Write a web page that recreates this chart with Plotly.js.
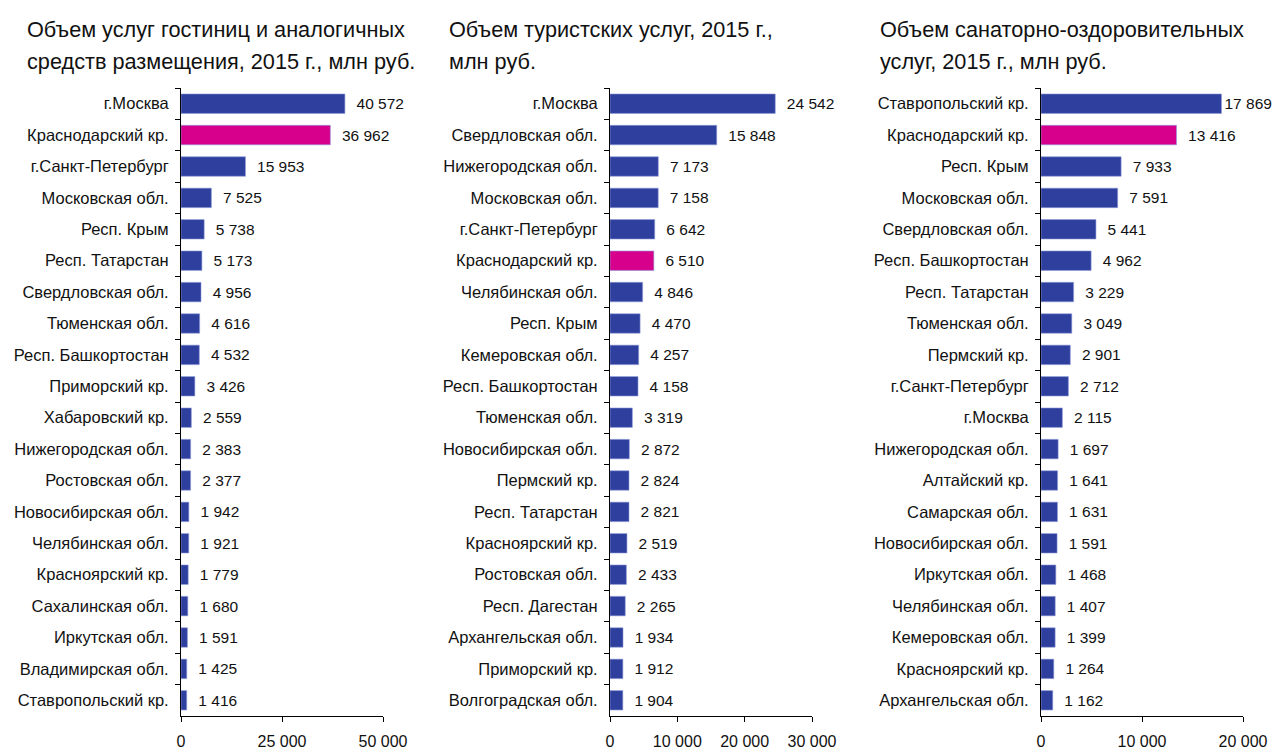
<!DOCTYPE html>
<html><head><meta charset="utf-8">
<script src="https://cdn.plot.ly/plotly-3.0.1.min.js"></script>
<style>body{margin:0;background:#fff}#c{width:1274px;height:749px}</style>
</head><body><div id="c"></div>
<script>
const titleLines = [
  ["Объем услуг гостиниц и аналогичных","средств размещения, 2015 г., млн руб."],
  ["Объем туристских услуг, 2015 г.,","млн руб."],
  ["Объем санаторно-оздоровительных","услуг, 2015 г., млн руб."]
];
const hotelRegions = ["г.Москва","Краснодарский кр.","г.Санкт-Петербург","Московская обл.","Респ. Крым","Респ. Татарстан","Свердловская обл.","Тюменская обл.","Респ. Башкортостан","Приморский кр.","Хабаровский кр.","Нижегородская обл.","Ростовская обл.","Новосибирская обл.","Челябинская обл.","Красноярский кр.","Сахалинская обл.","Иркутская обл.","Владимирская обл.","Ставропольский кр."];
const hotelValues = [40572,36962,15953,7525,5738,5173,4956,4616,4532,3426,2559,2383,2377,1942,1921,1779,1680,1591,1425,1416];
const tourRegions = ["г.Москва","Свердловская обл.","Нижегородская обл.","Московская обл.","г.Санкт-Петербург","Краснодарский кр.","Челябинская обл.","Респ. Крым","Кемеровская обл.","Респ. Башкортостан","Тюменская обл.","Новосибирская обл.","Пермский кр.","Респ. Татарстан","Красноярский кр.","Ростовская обл.","Респ. Дагестан","Архангельская обл.","Приморский кр.","Волгоградская обл."];
const tourValues = [24542,15848,7173,7158,6642,6510,4846,4470,4257,4158,3319,2872,2824,2821,2519,2433,2265,1934,1912,1904];
const spaRegions = ["Ставропольский кр.","Краснодарский кр.","Респ. Крым","Московская обл.","Свердловская обл.","Респ. Башкортостан","Респ. Татарстан","Тюменская обл.","Пермский кр.","г.Санкт-Петербург","г.Москва","Нижегородская обл.","Алтайский кр.","Самарская обл.","Новосибирская обл.","Иркутская обл.","Челябинская обл.","Кемеровская обл.","Красноярский кр.","Архангельская обл."];
const spaValues = [17869,13416,7933,7591,5441,4962,3229,3049,2901,2712,2115,1697,1641,1631,1591,1468,1407,1399,1264,1162];
const xRanges = [[0,50000],[0,30000],[0,20000]];
const xTicks = [[0,25000,50000],[0,10000,20000,30000],[0,10000,20000]];
const highlight = "Краснодарский кр.";

const BLUE = "#2e3f9e", MAG = "#d6008c";
const font = "Liberation Sans, Arial, sans-serif";
const sets = [[hotelRegions,hotelValues],[tourRegions,tourValues],[spaRegions,spaValues]];
const domains = [[181/1274,383/1274],[610/1274,812/1274],[1041/1274,1243/1274]];
const titleX = [25,447,878];
const lineY = [29,61];

const data = sets.map((s,i)=>({
  type:"bar", orientation:"h", x:s[1], y:s[0],
  xaxis: i===0?"x":"x"+(i+1), yaxis: i===0?"y":"y"+(i+1),
  marker:{color:s[0].map(r=>r===highlight?MAG:BLUE), line:{color:"#8f9ad6", width:0.6}},
  texttemplate:s[1].map(v=> v/xRanges[i][1] > 0.85 ? "%{x:,}" : "\u00a0\u00a0%{x:,}"),
  textposition:"outside", cliponaxis:false, constraintext:"none",
  textfont:{family:font,size:15.5,color:"#111"}, hoverinfo:"x+y", width:0.62
}));

const annotations = [];
titleLines.forEach((lines,i)=>lines.forEach((t,j)=>annotations.push({
  text:t, xref:"paper", yref:"paper", x:titleX[i]/1274, y:(716-lineY[j])/628,
  xanchor:"left", yanchor:"middle", align:"left", showarrow:false,
  font:{family:font,size:21.7,color:"#111"}
})));

const layout = {
  width:1274, height:749, showlegend:false,
  margin:{l:0,r:0,t:88,b:33},
  separators:", ",
  paper_bgcolor:"#fff", plot_bgcolor:"#fff",
  font:{family:font,size:16,color:"#111"},
  annotations
};
for(let i=0;i<3;i++){
  const xa = i===0?"xaxis":"xaxis"+(i+1), ya = i===0?"yaxis":"yaxis"+(i+1);
  layout[xa] = {domain:domains[i], anchor:i===0?"y":"y"+(i+1), range:xRanges[i], tickvals:xTicks[i], tickformat:",",
    showgrid:false, zeroline:false, showline:true, linecolor:"#000", linewidth:1, ticks:"outside", ticklen:5, tickcolor:"#000",
    tickfont:{family:font,size:16,color:"#111"}, ticklabelstandoff:6, fixedrange:true};
  layout[ya] = {anchor:i===0?"x":"x"+(i+1), type:"category", autorange:"reversed", showgrid:false, zeroline:false,
    showline:true, linecolor:"#000", linewidth:1, ticks:"outside", ticklen:5, tickcolor:"#000", tickson:"boundaries",
    tickfont:{family:font,size:16.5,color:"#111"}, ticklabelstandoff:8, fixedrange:true};
}
Plotly.newPlot("c", data, layout, {displayModeBar:false, staticPlot:true});
</script></body></html>
